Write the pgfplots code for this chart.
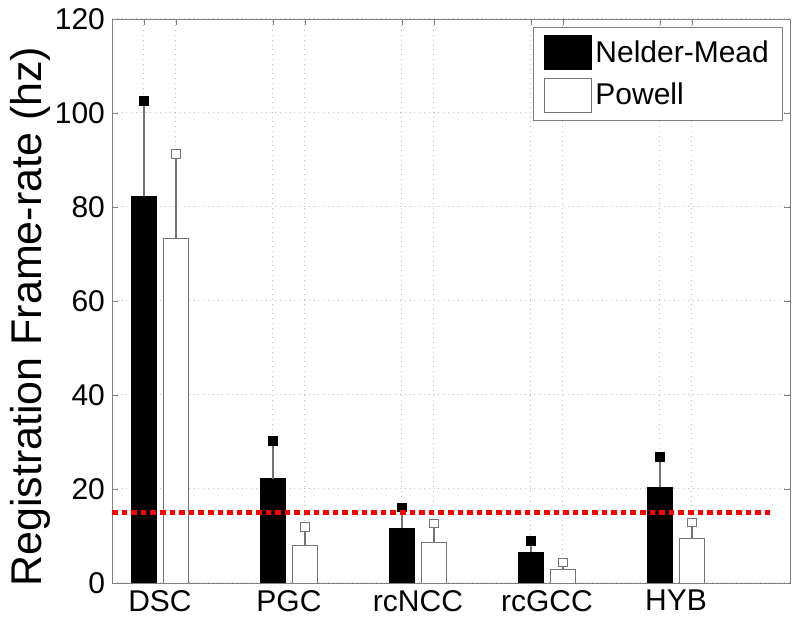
\documentclass[border=0pt]{standalone}
\usepackage{fontspec}
\setmainfont{Liberation Sans}
\usepackage{pgfplots}
\pgfplotsset{compat=1.18}
\usetikzlibrary{calc}

\definecolor{axgray}{RGB}{128,128,128}
\definecolor{gridgray}{RGB}{190,190,190}
\definecolor{errgray}{RGB}{115,115,115}

\pgfplotsset{
  nmleg/.style={legend image code/.code={\draw[fill=black,draw=black] (0pt,-8.5pt) rectangle (23.5pt,8.5pt);}},
  pwleg/.style={legend image code/.code={\draw[fill=white,draw=errgray] (0pt,-8.5pt) rectangle (23.5pt,8.5pt);}},
}

\begin{document}
\begin{tikzpicture}
\begin{axis}[
  width=339pt, height=282pt, scale only axis,
  xmin=0.628, xmax=5.884, ymin=0, ymax=120,
  xtick={0.876,1.124,1.876,2.124,2.876,3.124,3.876,4.124,4.876,5.124},
  xticklabels={},
  extra x ticks={1,2,3,4,5},
  extra x tick labels={DSC,PGC,rcNCC,rcGCC,HYB},
  extra x tick style={xmajorgrids=false, major tick length=0pt},
  ytick={0,20,...,120},
  tick align=inside,
  major tick length=3pt,
  xmajorgrids, ymajorgrids,
  grid style={dotted, gridgray, line width=0.5pt},
  axis line style={axgray},
  every tick/.style={axgray},
  tick label style={font=\fontsize{15}{18}\selectfont, black},
  /pgf/number format/assume math mode=true,
  ylabel={Registration Frame-rate (hz)},
  ylabel style={font=\fontsize{21.5}{25}\selectfont, at={(axis description cs:-0.121,0.472)}, anchor=center},
  legend style={at={(axis description cs:0.990,0.986)}, anchor=north east, draw=axgray,
    font=\fontsize{15}{18}\selectfont, row sep=4pt, inner xsep=5pt, inner ysep=4pt,
    /tikz/every even column/.append style={column sep=1pt}},
  legend cell align=left,
]
\coordinate (bl) at (rel axis cs:0,0);
\coordinate (tr) at (rel axis cs:1,1);

% Nelder-Mead: mean with upper error
\addplot[ybar, bar width=0.2, bar shift=0pt, fill=black, draw=black, nmleg,
  error bars/.cd, y dir=plus, y explicit,
  error bar style={errgray, line width=0.6pt},
  error mark=square*, error mark options={draw=black, fill=black, mark size=2.2pt}]
  coordinates {
    (0.876,82.3) +- (0,20.2)
    (1.876,22.2) +- (0,8.1)
    (2.876,11.6) +- (0,4.5)
    (3.876,6.5)  +- (0,2.4)
    (4.876,20.4) +- (0,6.4)
  };
\addlegendentry{Nelder-Mead}

% Powell
\addplot[ybar, bar width=0.2, bar shift=0pt, fill=white, draw=errgray, pwleg,
  error bars/.cd, y dir=plus, y explicit,
  error bar style={errgray, line width=0.6pt},
  error mark=square*, error mark options={draw=errgray, fill=white, mark size=2.2pt}]
  coordinates {
    (1.124,73.4) +- (0,17.9)
    (2.124,7.9)  +- (0,4.1)
    (3.124,8.7)  +- (0,4.0)
    (4.124,2.8)  +- (0,1.6)
    (5.124,9.4)  +- (0,3.5)
  };
\addlegendentry{Powell}

% 15 hz threshold
\addplot[red, line width=2.4pt, dash pattern=on 2.8pt off 2pt, forget plot]
  coordinates {(0.628,15) (5.75,15)};
\end{axis}
\pgfresetboundingbox
\useasboundingbox ($(bl)+(-56pt,-25.5pt)$) rectangle ($(tr)+(5pt,9.5pt)$);
\end{tikzpicture}
\end{document}
